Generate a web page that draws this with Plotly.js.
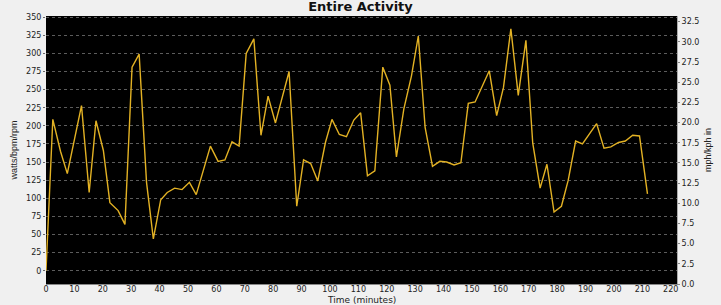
<!DOCTYPE html>
<html>
<head>
<meta charset="utf-8">
<script src="https://cdn.plot.ly/plotly-3.0.1.min.js"></script>
<style>html,body{margin:0;padding:0;background:#f0f0f0;}#chart{width:721px;height:305px;}</style>
</head>
<body>
<div id="chart"></div>
<script>
// Time in minutes
const timeMinutes = [0, 2.4, 5.1, 7.5, 12.5, 15.2, 17.6, 20.2, 22.5, 25.4, 27.8, 30.3, 32.8, 35.4, 37.8, 40.4, 42.7, 45.3, 47.9, 50.5, 52.9, 57.9, 60.6, 63.0, 65.5, 68.0, 70.5, 73.2, 75.7, 78.2, 80.8, 85.6, 88.3, 90.7, 93.2, 95.7, 98.4, 100.7, 103.3, 105.8, 108.4, 110.8, 113.2, 115.8, 118.6, 121.1, 123.4, 126.0, 128.7, 131.1, 133.5, 136.1, 138.7, 141.1, 143.7, 146.1, 148.7, 151.1, 156.1, 158.7, 161.1, 163.7, 166.3, 169.0, 171.4, 174.0, 176.4, 178.9, 181.5, 183.9, 186.5, 188.9, 193.9, 196.5, 198.9, 201.6, 204.0, 206.6, 209.0, 211.8];
// Power (watts)
const powerWatts = [0, 209, 165, 134, 228, 108, 207, 166, 94, 83, 64, 281, 299, 122, 44, 98, 108, 114, 112, 122, 105, 172, 151, 153, 178, 172, 300, 320, 187, 241, 204, 275, 89, 153, 148, 124, 177, 209, 188, 185, 208, 218, 131, 138, 281, 256, 157, 223, 269, 324, 198, 144, 151, 150, 146, 149, 231, 233, 276, 214, 253, 334, 242, 318, 176, 114, 147, 81, 89, 125, 179, 175, 203, 169, 171, 177, 179, 187, 186, 106];

const xTitle = 'Time (minutes)';
const tickFont = {family: 'DejaVu Sans', size: 8, color: '#222'};

const data = [
  {
    x: timeMinutes, y: powerWatts, type: 'scatter', mode: 'lines',
    line: {color: '#e3b224', width: 1.4},
    showlegend: false, hoverinfo: 'skip'
  },
  {
    x: [], y: [], type: 'scatter', mode: 'lines', yaxis: 'y2',
    showlegend: false, hoverinfo: 'skip'
  }
];

const layout = {
  width: 721, height: 305,
  margin: {l: 46, r: 44, t: 15.5, b: 21, pad: 0},
  paper_bgcolor: '#f0f0f0',
  plot_bgcolor: '#000000',
  title: {
    text: 'Entire Activity',
    font: {family: 'DejaVu Sans', size: 13, color: '#111', weight: 'bold'},
    x: 0.5, xanchor: 'center', y: 0.978, yanchor: 'middle'
  },
  xaxis: {
    range: [0, 222.2], tickmode: 'linear', tick0: 0, dtick: 10,
    showgrid: false, zeroline: false,
    showline: true, linecolor: '#888', linewidth: 1,
    ticks: '', ticklabelstandoff: -3,
    tickfont: tickFont
  },
  yaxis: {
    range: [-18.3, 351.6], tickmode: 'linear', tick0: 0, dtick: 25,
    showgrid: true, gridcolor: '#5c5c5c', griddash: 'dot', gridwidth: 1,
    zeroline: false, showline: false,
    ticks: 'outside', ticklen: 2, tickcolor: '#666',
    tickfont: tickFont,
    title: {text: 'watts/bpm/rpm', font: {family: 'Liberation Sans', size: 9, color: '#222'}, standoff: 6}
  },
  yaxis2: {
    overlaying: 'y', side: 'right', anchor: 'x',
    range: [0, 33.2], tickmode: 'linear', tick0: 0, dtick: 2.5, tickformat: '.1f',
    showgrid: false, zeroline: false,
    showline: true, linecolor: '#aaa', linewidth: 1,
    ticks: 'outside', ticklen: 2, tickcolor: '#888',
    tickfont: tickFont,
    title: {text: 'mph/kph in', font: {family: 'Liberation Sans', size: 9, color: '#222'}, standoff: 6}
  },
  annotations: [
    {
      text: xTitle, xref: 'paper', yref: 'paper', x: 0.5, y: -0.058,
      xanchor: 'center', yanchor: 'middle', showarrow: false,
      font: {family: 'DejaVu Sans', size: 9, color: '#222'}
    }
  ]
};

Plotly.newPlot('chart', data, layout, {displayModeBar: false, staticPlot: true});
</script>
</body>
</html>
